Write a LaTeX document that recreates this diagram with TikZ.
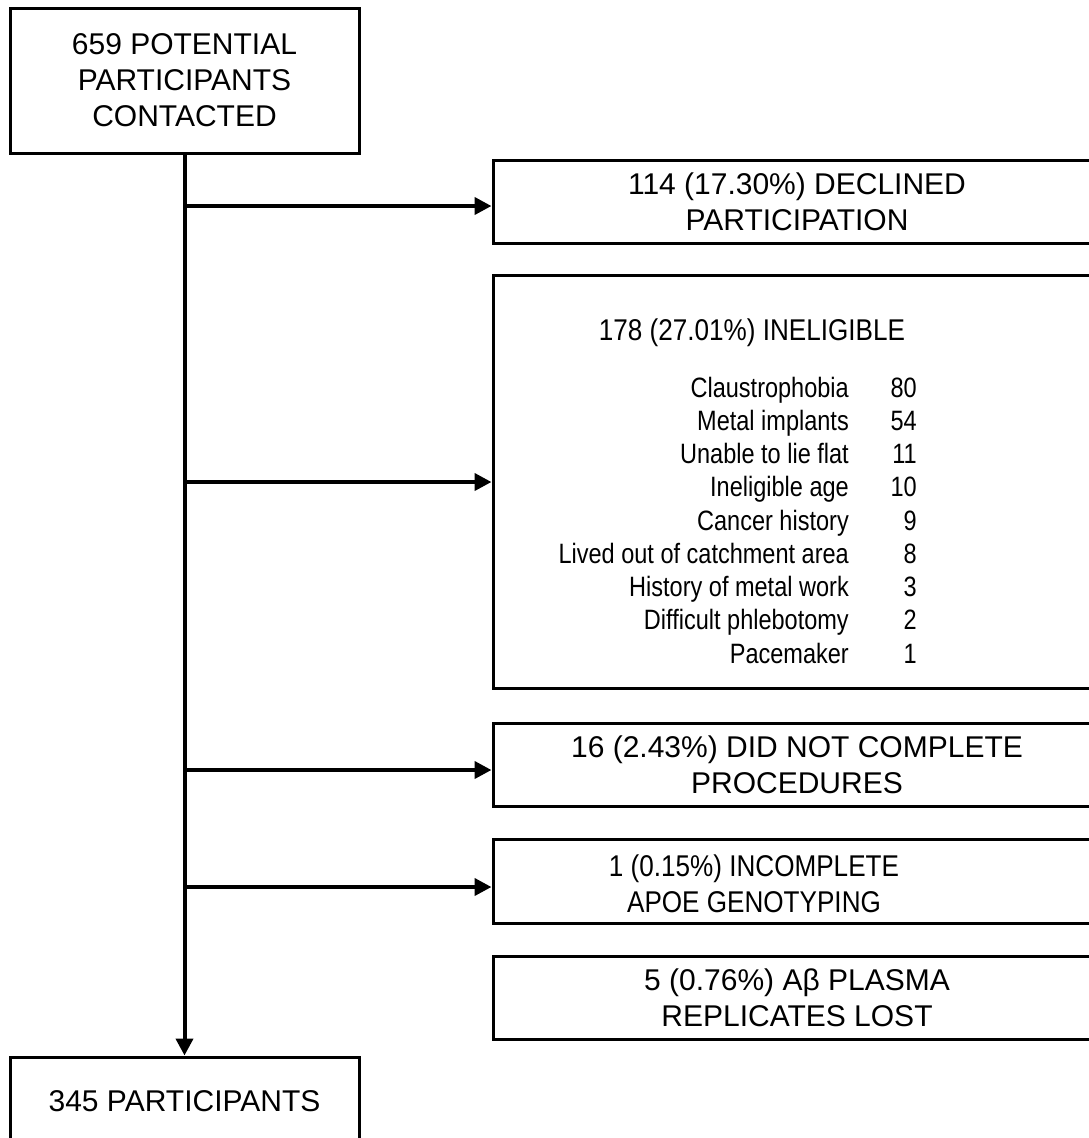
\documentclass[tikz,border=0pt]{standalone}
\usepackage{fontspec}
\setmainfont{Liberation Sans}
\newfontfamily\narrowfont[FakeStretch=0.87]{Liberation Sans}
\newfontfamily\listfont[FakeStretch=0.84]{Liberation Sans}
\usetikzlibrary{arrows.meta,positioning,calc}

\begin{document}
\begin{tikzpicture}[x=1pt,y=-1pt,
    box/.style={draw,line width=3pt,inner sep=0pt,align=center,font=\fontsize{30}{36}\selectfont},
    sidebox/.style={box,minimum width=608pt,minimum height=83pt},
    narrowtxt/.style={inner sep=0pt,align=center,font=\narrowfont\fontsize{30}{36}\selectfont},
    lst/.style={inner sep=0pt,anchor=base east,font=\listfont\fontsize{28}{33}\selectfont},
    arr/.style={-{Triangle[length=17pt,width=17pt]},line width=4pt}]
\useasboundingbox (0,0) rectangle (1089,1138);
%left column
\node[box,minimum width=349pt,minimum height=145pt] (nTopBox) at (184.5,80.5) {659 POTENTIAL\\PARTICIPANTS\\CONTACTED};
\node[box,minimum width=349pt,minimum height=88pt] (nBotBox) at (184.5,1101) {345 PARTICIPANTS};
%excluded boxes
\node[sidebox] (nDeclBox) at (797,201.5) {114 (17.30\%) DECLINED\\PARTICIPATION};
\node[sidebox,minimum height=413pt] (nInelBox) at (797,481.5) {};
\node[sidebox] (nProcBox) at (797,764.5) {16 (2.43\%) DID NOT COMPLETE\\PROCEDURES};
\node[sidebox,minimum height=84pt] (nApoeBox) at (797,881) {};
\node[sidebox] (nPlasBox) at (797,997.5) {5 (0.76\%) Aβ PLASMA\\REPLICATES LOST};
\node[narrowtxt] (nApoeTxt) at (754,884) {1 (0.15\%) INCOMPLETE\\APOE GENOTYPING};
%ineligible reasons
\node[narrowtxt,anchor=base] (nInelTxt) at (752,340) {178 (27.01\%) INELIGIBLE};
\foreach \lbl/\num [count=\k] in
{Claustrophobia/80,
    Metal implants/54,
    Unable to lie flat/11,
    Ineligible age/10,
    Cancer history/9,
    Lived out of catchment area/8,
    History of metal work/3,
    Difficult phlebotomy/2,
    Pacemaker/1
}
{
    \node[lst] (nLbl\k) at (849,{397+33.25*(\k-1)}) {\lbl};
    \node[lst] (nNum\k) at (917,{397+33.25*(\k-1)}) {\num};
};
%arrows
\draw[arr] (nTopBox.south) -- (nBotBox.north);
\foreach \y/\b in {206/nDeclBox, 482/nInelBox, 770/nProcBox, 887/nApoeBox}
{
    \coordinate (cBrPt) at (184.5,\y);
    \draw[arr] (cBrPt) -- (cBrPt -| \b.west);
};
\end{tikzpicture}
\end{document}
